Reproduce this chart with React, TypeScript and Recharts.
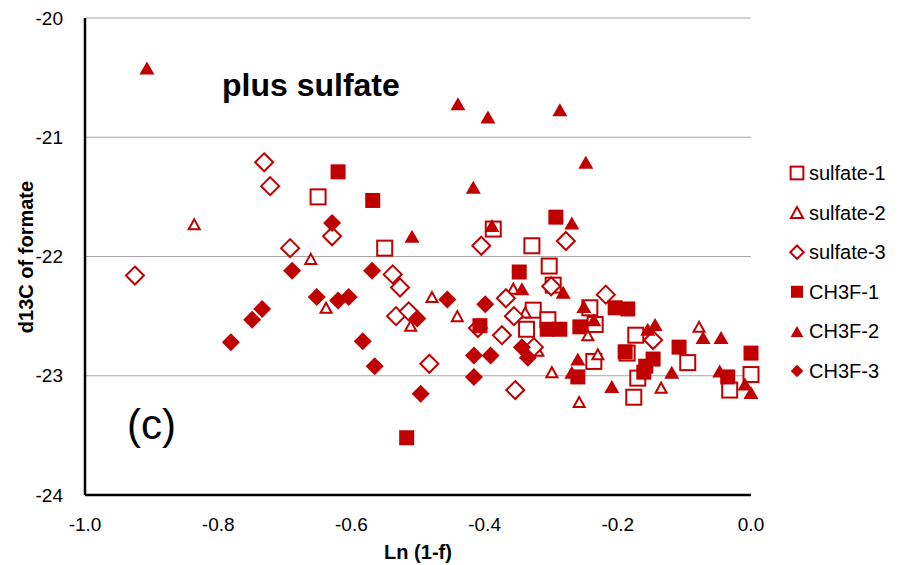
import React from 'react';
import { ScatterChart, Scatter, XAxis, YAxis, CartesianGrid } from 'recharts';

const RED = '#C00000';
const FONT = "'Liberation Sans', Arial, sans-serif";

const xTicks = [-1.0, -0.8, -0.6, -0.4, -0.2, 0.0];
const yTicks = [-24, -23, -22, -21, -20];

const sulfate1 = [
  { x: -0.650, y: -21.50 }, { x: -0.550, y: -21.93 }, { x: -0.387, y: -21.77 },
  { x: -0.329, y: -21.91 }, { x: -0.303, y: -22.08 }, { x: -0.297, y: -22.24 },
  { x: -0.242, y: -22.43 }, { x: -0.327, y: -22.45 }, { x: -0.305, y: -22.53 },
  { x: -0.337, y: -22.61 }, { x: -0.234, y: -22.57 }, { x: -0.173, y: -22.66 },
  { x: -0.186, y: -22.81 }, { x: -0.236, y: -22.88 }, { x: -0.095, y: -22.89 },
  { x: -0.170, y: -23.02 }, { x: -0.176, y: -23.18 }, { x: -0.032, y: -23.12 },
  { x: 0.000, y: -22.99 },
];

const sulfate2 = [
  { x: -0.836, y: -21.73 }, { x: -0.661, y: -22.02 }, { x: -0.638, y: -22.43 },
  { x: -0.479, y: -22.34 }, { x: -0.511, y: -22.58 }, { x: -0.441, y: -22.50 },
  { x: -0.357, y: -22.27 }, { x: -0.339, y: -22.47 }, { x: -0.320, y: -22.79 },
  { x: -0.299, y: -22.97 }, { x: -0.245, y: -22.66 }, { x: -0.230, y: -22.82 },
  { x: -0.258, y: -23.22 }, { x: -0.135, y: -23.10 }, { x: -0.078, y: -22.59 },
];

const sulfate3 = [
  { x: -0.731, y: -21.21 }, { x: -0.722, y: -21.41 }, { x: -0.692, y: -21.93 },
  { x: -0.925, y: -22.16 }, { x: -0.629, y: -21.83 }, { x: -0.538, y: -22.15 },
  { x: -0.527, y: -22.26 }, { x: -0.533, y: -22.50 }, { x: -0.514, y: -22.46 },
  { x: -0.483, y: -22.90 }, { x: -0.405, y: -21.91 }, { x: -0.278, y: -21.87 },
  { x: -0.368, y: -22.35 }, { x: -0.356, y: -22.50 }, { x: -0.374, y: -22.66 },
  { x: -0.354, y: -23.12 }, { x: -0.218, y: -22.32 }, { x: -0.300, y: -22.25 },
  { x: -0.410, y: -22.60 }, { x: -0.326, y: -22.76 }, { x: -0.147, y: -22.70 },
];

const ch3f1 = [
  { x: -0.620, y: -21.29 }, { x: -0.568, y: -21.53 }, { x: -0.517, y: -23.52 },
  { x: -0.293, y: -21.67 }, { x: -0.348, y: -22.13 }, { x: -0.407, y: -22.58 },
  { x: -0.306, y: -22.61 }, { x: -0.287, y: -22.61 }, { x: -0.257, y: -22.59 },
  { x: -0.204, y: -22.43 }, { x: -0.185, y: -22.44 }, { x: -0.189, y: -22.80 },
  { x: -0.147, y: -22.86 }, { x: -0.158, y: -22.92 }, { x: -0.161, y: -22.97 },
  { x: -0.108, y: -22.76 }, { x: 0.000, y: -22.81 }, { x: -0.035, y: -23.01 },
  { x: -0.260, y: -23.01 },
];

const ch3f2 = [
  { x: -0.907, y: -20.42 }, { x: -0.440, y: -20.72 }, { x: -0.395, y: -20.83 },
  { x: -0.287, y: -20.77 }, { x: -0.248, y: -21.21 }, { x: -0.417, y: -21.42 },
  { x: -0.509, y: -21.83 }, { x: -0.389, y: -21.74 }, { x: -0.269, y: -21.72 },
  { x: -0.344, y: -22.27 }, { x: -0.282, y: -22.30 }, { x: -0.251, y: -22.42 },
  { x: -0.236, y: -22.53 }, { x: -0.260, y: -22.86 }, { x: -0.269, y: -22.97 },
  { x: -0.209, y: -23.09 }, { x: -0.155, y: -22.61 }, { x: -0.144, y: -22.57 },
  { x: -0.072, y: -22.68 }, { x: -0.045, y: -22.68 }, { x: -0.119, y: -22.97 },
  { x: -0.047, y: -22.96 }, { x: -0.009, y: -23.07 }, { x: 0.000, y: -23.14 },
];

const ch3f3 = [
  { x: -0.689, y: -22.12 }, { x: -0.734, y: -22.44 }, { x: -0.749, y: -22.53 },
  { x: -0.781, y: -22.72 }, { x: -0.652, y: -22.34 }, { x: -0.629, y: -21.72 },
  { x: -0.620, y: -22.37 }, { x: -0.604, y: -22.34 }, { x: -0.569, y: -22.12 },
  { x: -0.583, y: -22.71 }, { x: -0.565, y: -22.92 }, { x: -0.501, y: -22.52 },
  { x: -0.496, y: -23.15 }, { x: -0.456, y: -22.36 }, { x: -0.399, y: -22.40 },
  { x: -0.416, y: -22.83 }, { x: -0.391, y: -22.83 }, { x: -0.416, y: -23.01 },
  { x: -0.344, y: -22.76 }, { x: -0.335, y: -22.85 },
];

type ShapeKind = 'oSquare' | 'oTriangle' | 'oDiamond' | 'fSquare' | 'fTriangle' | 'fDiamond';

const seriesNames = ['sulfate-1', 'sulfate-2', 'sulfate-3', 'CH3F-1', 'CH3F-2', 'CH3F-3'];
const seriesData = [sulfate1, sulfate2, sulfate3, ch3f1, ch3f2, ch3f3];
const seriesShapes: ShapeKind[] = ['oSquare', 'oTriangle', 'oDiamond', 'fSquare', 'fTriangle', 'fDiamond'];

function Marker({ kind, cx, cy, scale = 1 }: { kind: ShapeKind; cx: number; cy: number; scale?: number }) {
  if (cx == null || cy == null) return null;
  switch (kind) {
    case 'oSquare': {
      const s = 15 * scale;
      return <rect x={cx - s / 2} y={cy - s / 2} width={s} height={s} fill="#fff" stroke={RED} strokeWidth={2} />;
    }
    case 'fSquare': {
      const s = 15 * scale;
      return <rect x={cx - s / 2} y={cy - s / 2} width={s} height={s} fill={RED} stroke="none" />;
    }
    case 'oTriangle': {
      const w = 11 * scale, h = 10 * scale;
      return <polygon points={`${cx},${cy - h / 2} ${cx - w / 2},${cy + h / 2} ${cx + w / 2},${cy + h / 2}`} fill="#fff" stroke={RED} strokeWidth={2} />;
    }
    case 'fTriangle': {
      const w = 15 * scale, h = 13 * scale;
      return <polygon points={`${cx},${cy - h / 2} ${cx - w / 2},${cy + h / 2} ${cx + w / 2},${cy + h / 2}`} fill={RED} stroke="none" />;
    }
    case 'oDiamond': {
      const r = 9 * scale;
      return <polygon points={`${cx},${cy - r} ${cx + r},${cy} ${cx},${cy + r} ${cx - r},${cy}`} fill="#fff" stroke={RED} strokeWidth={2} />;
    }
    case 'fDiamond': {
      const r = 9 * scale;
      return <polygon points={`${cx},${cy - r} ${cx + r},${cy} ${cx},${cy + r} ${cx - r},${cy}`} fill={RED} stroke="none" />;
    }
  }
  return null;
}

const legendScale: Record<ShapeKind, number> = {
  oSquare: 0.85, oTriangle: 1.1, oDiamond: 0.75, fSquare: 0.8, fTriangle: 0.85, fDiamond: 0.7,
};

function LegendBlock() {
  const x0 = 797;
  const y0 = 173;
  const step = 39.6;
  return (
    <g>
      {seriesNames.map((name, i) => (
        <g key={name}>
          <Marker kind={seriesShapes[i]} cx={x0} cy={y0 + i * step} scale={legendScale[seriesShapes[i]]} />
          <text x={809} y={y0 + i * step + 7} fontSize={20} fontFamily={FONT} fill="#000">{name}</text>
        </g>
      ))}
    </g>
  );
}

export default function App() {
  return (
    <div style={{ position: 'absolute', left: 0, top: 0, width: 902, height: 565, background: '#fff' }}>
      <ScatterChart width={902} height={565} margin={{ top: 18, right: 151, bottom: 0, left: 0 }}>
        <CartesianGrid horizontal vertical={false} stroke="#a6a6a6" strokeWidth={1.2} xAxisId="bottom" yAxisId="left" />
        <XAxis
          xAxisId="bottom"
          type="number"
          dataKey="x"
          domain={[-1, 0]}
          ticks={xTicks}
          tickFormatter={(v: number) => v.toFixed(1)}
          height={70}
          tickLine={false}
          tickSize={6}
          tickMargin={17}
          axisLine={{ stroke: '#000', strokeWidth: 2.5 }}
          tick={{ fill: '#000', fontSize: 19, fontFamily: FONT }}
          label={(props: any) => (
            <text x={418} y={559} textAnchor="middle" fontSize={20} fontWeight="bold" fontFamily={FONT} fill="#000">Ln (1-f)</text>
          )}
        />
        <XAxis
          xAxisId="top"
          orientation="top"
          type="number"
          dataKey="x"
          domain={[-1, 0]}
          ticks={xTicks}
          height={0}
          tick={false}
          tickSize={6}
          tickLine={{ stroke: '#808080', strokeWidth: 1.2 }}
          axisLine={{ stroke: '#505050', strokeWidth: 2 }}
        />
        <YAxis
          yAxisId="left"
          type="number"
          dataKey="y"
          domain={[-24, -20]}
          ticks={yTicks}
          width={85}
          tickLine={false}
          tickSize={6}
          tickMargin={16}
          axisLine={{ stroke: '#000', strokeWidth: 2.5 }}
          tick={{ fill: '#000', fontSize: 19, fontFamily: FONT }}
          label={(props: any) => (
            <text x={33} y={257} transform="rotate(-90, 33, 257)" textAnchor="middle" fontSize={20} fontWeight="bold" fontFamily={FONT} fill="#000">d13C of formate</text>
          )}
        />
        <YAxis
          yAxisId="right"
          orientation="right"
          type="number"
          dataKey="y"
          domain={[-24, -20]}
          ticks={yTicks}
          width={0}
          tick={false}
          tickLine={false}
          axisLine={{ stroke: '#505050', strokeWidth: 2 }}
        />
        {seriesData.map((d, i) => (
          <Scatter
            key={seriesNames[i]}
            name={seriesNames[i]}
            data={d}
            xAxisId="bottom"
            yAxisId="left"
            isAnimationActive={false}
            shape={(p: any) => <Marker kind={seriesShapes[i]} cx={p.cx} cy={p.cy} />}
          />
        ))}
        <text x={222} y={96} fontSize={32} fontWeight="bold" fontFamily={FONT} fill="#000">plus sulfate</text>
        <text x={127} y={439} fontSize={42} fontFamily={FONT} fill="#000">(c)</text>
        <LegendBlock />
      </ScatterChart>
    </div>
  );
}
